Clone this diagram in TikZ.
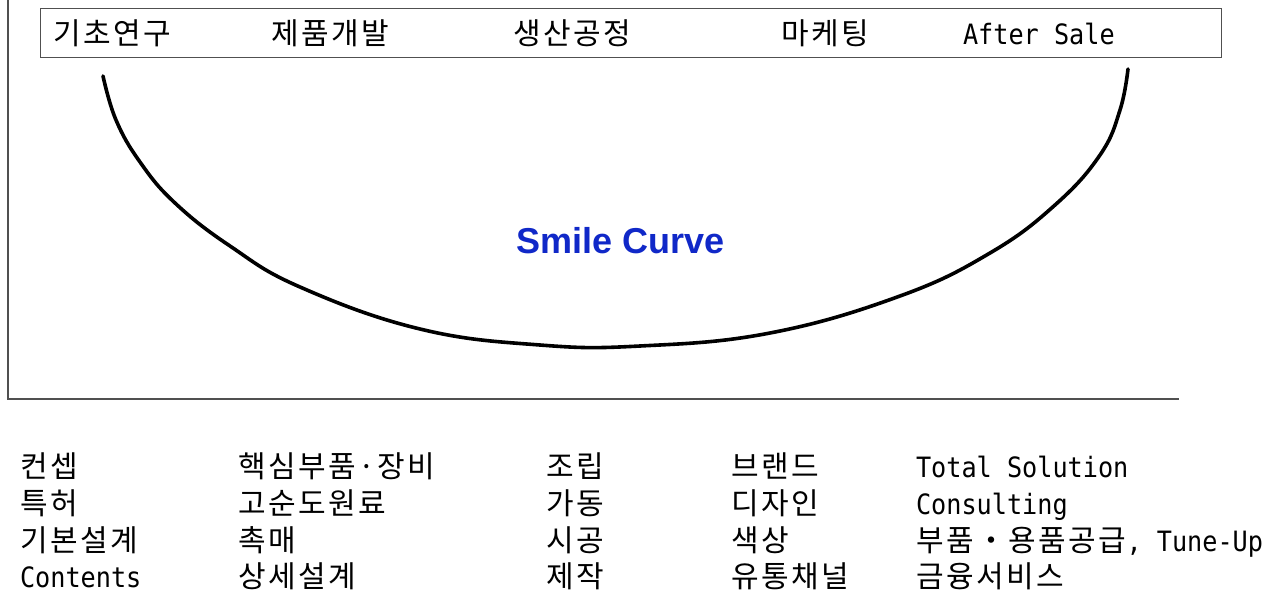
\documentclass[tikz,border=0pt]{standalone}
\usepackage{fontspec}
\newfontfamily\krfont[LetterSpace=8]{Noto Sans CJK KR}
\newfontfamily\monofont[FakeStretch=0.9]{DejaVu Sans Mono}
\newfontfamily\smilefont{Liberation Sans}
\definecolor{smileblue}{RGB}{16,40,200}
\definecolor{axisgray}{RGB}{80,80,80}
\begin{document}
\begin{tikzpicture}[x=1pt,y=-1pt,
  lbl/.style={anchor=base west,inner sep=0pt,outer sep=0pt,text depth=0pt,font=\krfont\fontsize{30}{30}\selectfont},
  mlbl/.style={anchor=base west,inner sep=0pt,outer sep=0pt,text depth=0pt,font=\monofont\fontsize{28}{28}\selectfont},
  frame/.style={draw=axisgray,line width=1.4pt}]
\useasboundingbox (0,0) rectangle (1275,592);
% axes
\coordinate (ytop) at (8,0);
\coordinate (origin) at (8,399);
\coordinate (xend) at (1179,399);
\draw[frame] (ytop) -- (origin) -- (xend);
% top box
\node[frame,minimum width=1181pt,minimum height=49pt,inner sep=0pt,anchor=north west] (stages) at (40,8) {};
\node[lbl] (s1) at (53.5,44) {기초연구};
\node[lbl] (s2) at (271.5,44) {제품개발};
\node[lbl] (s3) at (513.5,44) {생산공정};
\node[lbl] (s4) at (781.5,44) {마케팅};
\node[mlbl] (s5) at (963,44) {After Sale};
% smile curve
\draw[line width=3.6pt,line cap=round] plot[smooth,tension=0.7] coordinates {
 (103,76) (116,120) (140,162) (175,203) (230,246) (300,287)
 (420,329) (540,345) (640,346) (770,333) (900,296) (990,253) (1055,205)
 (1100,155) (1120,110) (1128,69)};
\node[anchor=base,inner sep=0pt,text=smileblue,font=\smilefont\bfseries\fontsize{36}{36}\selectfont] (title) at (621,253) {Smile Curve};
% column 1
\node[lbl] (a1) at (20.5,477) {컨셉};
\node[lbl] (a2) at (20.5,514) {특허};
\node[lbl] (a3) at (20.5,551) {기본설계};
\node[mlbl] (a4) at (20,587) {Contents};
% column 2
\node[lbl] (b1) at (238.5,477) {핵심부품·장비};
\node[lbl] (b2) at (238.5,514) {고순도원료};
\node[lbl] (b3) at (238.5,551) {촉매};
\node[lbl] (b4) at (238.5,587) {상세설계};
% column 3
\node[lbl] (c1) at (546.5,477) {조립};
\node[lbl] (c2) at (546.5,514) {가동};
\node[lbl] (c3) at (546.5,551) {시공};
\node[lbl] (c4) at (546.5,587) {제작};
% column 4
\node[lbl] (d1) at (731.5,477) {브랜드};
\node[lbl] (d2) at (731.5,514) {디자인};
\node[lbl] (d3) at (731.5,551) {색상};
\node[lbl] (d4) at (731.5,587) {유통채널};
% column 5
\node[mlbl] (e1) at (916,477) {Total Solution};
\node[mlbl] (e2) at (916,514) {Consulting};
\node[lbl] (e3) at (916.5,551) {부품・용품공급\monofont\fontsize{28}{28}\selectfont, Tune-Up};
\node[lbl] (e4) at (916.5,587) {금융서비스};
\end{tikzpicture}
\end{document}
